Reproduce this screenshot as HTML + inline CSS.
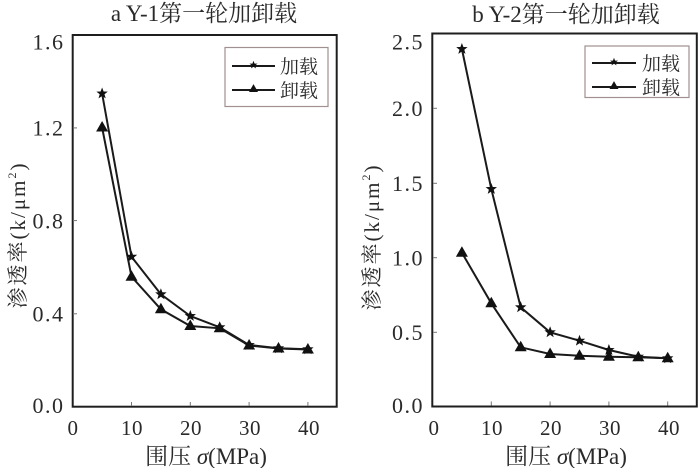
<!DOCTYPE html>
<html><head><meta charset="utf-8"><style>
html,body{margin:0;padding:0;background:#fff;}
svg{display:block;}
.num{font-family:"Liberation Serif",serif;font-size:22px;fill:#2a2a2a;letter-spacing:1.5px;}
.xn{font-family:"Liberation Serif",serif;font-size:21px;fill:#2a2a2a;letter-spacing:0.5px;}
.cjk{font-family:"Liberation Serif","Noto Serif CJK SC",serif;fill:#2a2a2a;}
</style></head><body>
<svg width="700" height="468" viewBox="0 0 700 468" xmlns="http://www.w3.org/2000/svg">
<defs>
<path id="star" d="M0,-6 L1.5,-2 L5.7,-1.9 L2.4,0.8 L3.6,4.9 L0,2.5 L-3.6,4.9 L-2.4,0.8 L-5.7,-1.9 L-1.5,-2 Z" fill="#111"/>
<path id="tri" d="M0,-6.5 L6,4 L-6,4 Z" fill="#111"/>
</defs>

<!-- ===== Left chart ===== -->
<text class="cjk" x="204" y="21" font-size="23" text-anchor="middle">a Y-1第一轮加卸载</text>
<rect x="72.7" y="35" width="264" height="371.7" fill="none" stroke="#1e1e1e" stroke-width="2"/>
<g stroke="#777" stroke-width="1">
<line x1="73" y1="127.9" x2="77" y2="127.9"/>
<line x1="73" y1="220.6" x2="77" y2="220.6"/>
<line x1="73" y1="313.8" x2="77" y2="313.8"/>
<line x1="131.5" y1="406" x2="131.5" y2="402"/>
<line x1="190.3" y1="406" x2="190.3" y2="402"/>
<line x1="249.1" y1="406" x2="249.1" y2="402"/>
<line x1="307.9" y1="406" x2="307.9" y2="402"/>
</g>
<g class="num" text-anchor="end">
<text x="64.5" y="49.5">1.6</text>
<text x="64.5" y="135.5">1.2</text>
<text x="64.5" y="228.5">0.8</text>
<text x="64.5" y="321.5">0.4</text>
<text x="64.5" y="413">0.0</text>
</g>
<g class="xn" text-anchor="middle">
<text x="73" y="435">0</text>
<text x="132" y="435">10</text>
<text x="191" y="435">20</text>
<text x="250" y="435">30</text>
<text x="309" y="435">40</text>
</g>
<text class="cjk" x="206" y="464" font-size="23" text-anchor="middle">围压 <tspan font-style="italic">σ</tspan>(MPa)</text>
<text class="cjk" transform="translate(25,235) rotate(-90)" font-size="21" letter-spacing="2" text-anchor="middle">渗透率(k/μm<tspan font-size="12" dy="-9">2</tspan><tspan dy="9">)</tspan></text>
<polyline fill="none" stroke="#1a1a1a" stroke-width="2" points="102.1,93.5 131.5,256.7 160.9,294.3 190.3,316 219.7,327.3 249.1,345 278.5,348.3 307.9,349.3"/>
<polyline fill="none" stroke="#1a1a1a" stroke-width="2" points="102.1,127.5 131.5,276.7 160.9,309.3 190.3,326 219.7,328.3 249.1,345.5 278.5,348.5 307.9,349.5"/>
<g>
<use href="#star" x="102.1" y="93.5"/><use href="#star" x="131.5" y="256.7"/><use href="#star" x="160.9" y="294.3"/><use href="#star" x="190.3" y="316"/><use href="#star" x="219.7" y="327.3"/><use href="#star" x="249.1" y="345"/><use href="#star" x="278.5" y="348.3"/><use href="#star" x="307.9" y="349.3"/>
<use href="#tri" x="102.1" y="127.5"/><use href="#tri" x="131.5" y="276.7"/><use href="#tri" x="160.9" y="309.3"/><use href="#tri" x="190.3" y="326"/><use href="#tri" x="219.7" y="328.3"/><use href="#tri" x="249.1" y="345.5"/><use href="#tri" x="278.5" y="348.5"/><use href="#tri" x="307.9" y="349.5"/>
</g>
<rect x="225" y="47.5" width="103" height="59" fill="#fff" stroke="#a09090" stroke-width="1.2"/>
<line x1="232" y1="66" x2="275" y2="66" stroke="#1a1a1a" stroke-width="2"/>
<use href="#star" x="253.5" y="65" transform="translate(253.5,65) scale(0.7) translate(-253.5,-65)"/>
<line x1="232" y1="90" x2="275" y2="90" stroke="#1a1a1a" stroke-width="2"/>
<use href="#tri" x="253.5" y="89" transform="translate(253.5,89) scale(0.75) translate(-253.5,-89)"/>
<text class="cjk" x="280" y="73" font-size="19">加载</text>
<text class="cjk" x="280" y="97" font-size="19">卸载</text>

<!-- ===== Right chart ===== -->
<text class="cjk" x="566" y="22" font-size="23" text-anchor="middle">b Y-2第一轮加卸载</text>
<rect x="432.3" y="33.5" width="264.5" height="373" fill="none" stroke="#1e1e1e" stroke-width="2"/>
<g stroke="#777" stroke-width="1">
<line x1="433" y1="108.3" x2="437" y2="108.3"/>
<line x1="433" y1="183.3" x2="437" y2="183.3"/>
<line x1="433" y1="257.7" x2="437" y2="257.7"/>
<line x1="433" y1="332.3" x2="437" y2="332.3"/>
<line x1="491.3" y1="405.5" x2="491.3" y2="401.5"/>
<line x1="550.1" y1="405.5" x2="550.1" y2="401.5"/>
<line x1="608.9" y1="405.5" x2="608.9" y2="401.5"/>
<line x1="667.7" y1="405.5" x2="667.7" y2="401.5"/>
</g>
<g class="num" text-anchor="end">
<text x="424" y="49.5">2.5</text>
<text x="424" y="116">2.0</text>
<text x="424" y="191">1.5</text>
<text x="424" y="265.5">1.0</text>
<text x="424" y="340">0.5</text>
<text x="424" y="413">0.0</text>
</g>
<g class="xn" text-anchor="middle">
<text x="434" y="435">0</text>
<text x="492" y="435">10</text>
<text x="551" y="435">20</text>
<text x="610" y="435">30</text>
<text x="669" y="435">40</text>
</g>
<text class="cjk" x="566" y="464" font-size="23" text-anchor="middle">围压 <tspan font-style="italic">σ</tspan>(MPa)</text>
<text class="cjk" transform="translate(379,237) rotate(-90)" font-size="21" letter-spacing="2" text-anchor="middle">渗透率(k/μm<tspan font-size="12" dy="-9">2</tspan><tspan dy="9">)</tspan></text>
<polyline fill="none" stroke="#1a1a1a" stroke-width="2" points="461.9,49 491.3,189 520.7,307.3 550.1,332.3 579.5,340.7 608.9,350 638.3,356.7 667.7,358.3"/>
<polyline fill="none" stroke="#1a1a1a" stroke-width="2" points="461.9,252.7 491.3,303.3 520.7,347.3 550.1,354 579.5,355.7 608.9,356.7 638.3,357.3 667.7,358.3"/>
<g>
<use href="#star" x="461.9" y="49"/><use href="#star" x="491.3" y="189"/><use href="#star" x="520.7" y="307.3"/><use href="#star" x="550.1" y="332.3"/><use href="#star" x="579.5" y="340.7"/><use href="#star" x="608.9" y="350"/><use href="#star" x="638.3" y="356.7"/><use href="#star" x="667.7" y="358.3"/>
<use href="#tri" x="461.9" y="252.7"/><use href="#tri" x="491.3" y="303.3"/><use href="#tri" x="520.7" y="347.3"/><use href="#tri" x="550.1" y="354"/><use href="#tri" x="579.5" y="355.7"/><use href="#tri" x="608.9" y="356.7"/><use href="#tri" x="638.3" y="357.3"/><use href="#tri" x="667.7" y="358.3"/>
</g>
<rect x="585" y="46" width="104" height="51.5" fill="#fff" stroke="#a09090" stroke-width="1.2"/>
<line x1="592" y1="63" x2="636" y2="63" stroke="#1a1a1a" stroke-width="2"/>
<use href="#star" x="614" y="62" transform="translate(614,62) scale(0.7) translate(-614,-62)"/>
<line x1="592" y1="87" x2="636" y2="87" stroke="#1a1a1a" stroke-width="2"/>
<use href="#tri" x="614" y="86" transform="translate(614,86) scale(0.75) translate(-614,-86)"/>
<text class="cjk" x="642" y="70" font-size="19">加载</text>
<text class="cjk" x="642" y="94" font-size="19">卸载</text>
</svg>
</body></html>
